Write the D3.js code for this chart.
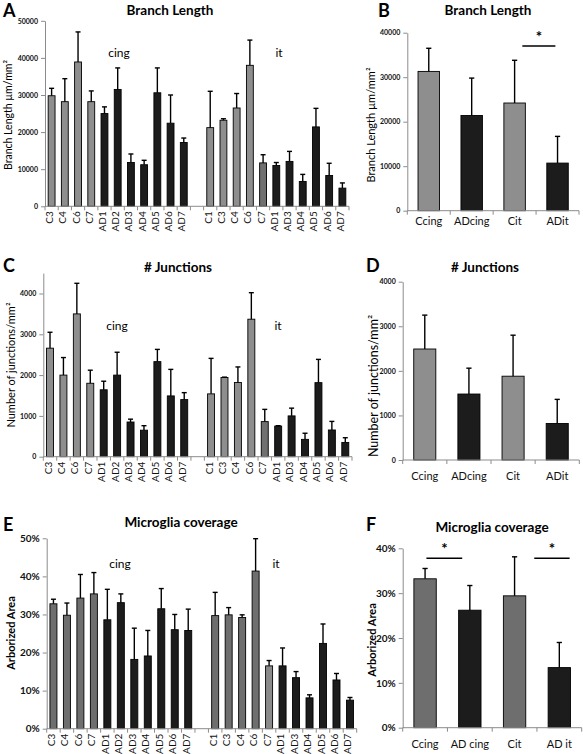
<!DOCTYPE html>
<html><head><meta charset="utf-8">
<script src="https://cdn.jsdelivr.net/npm/d3@7"></script>
<style>body{margin:0;background:#fff}svg{display:block}text{font-family:Lato,"Open Sans",sans-serif}</style>
</head><body>
<script>
// ---------- DATA ----------
const cingCats = ["C3","C4","C6","C7","AD1","AD2","AD3","AD4","AD5","AD6","AD7"];
const itCats   = ["C1","C3","C4","C6","C7","AD1","AD3","AD4","AD5","AD6","AD7"];

const branchCing    = [29800,28200,38900,28200,25000,31500,11800,11200,30600,22400,17200];
const branchCingErr = [2000,6200,8100,2900,1800,5800,2300,1200,6700,7600,1200];
const branchIt      = [21200,23200,26500,38000,11700,11000,12100,6700,21400,8300,4900];
const branchItErr   = [9800,400,3900,6800,2200,800,2700,1900,5000,3300,1400];

const junctCing    = [2660,2000,3500,1800,1640,2000,850,650,2330,1490,1400];
const junctCingErr = [390,430,750,320,210,560,70,110,300,650,170];
const junctIt      = [1540,1940,1820,3370,860,750,1000,425,1815,655,350];
const junctItErr   = [870,10,380,650,300,10,190,150,570,210,115];

const coverCing    = [32.8,29.8,34.3,35.4,28.6,33.1,18.2,19.1,31.5,26.0,25.8];
const coverCingErr = [1.2,3.2,6.2,5.6,8.0,2.3,8.2,6.7,5.3,4.0,5.6];
const coverIt      = [29.7,29.9,29.2,41.4,16.5,16.5,13.4,8.1,22.4,12.8,7.5];
const coverItErr   = [6.1,1.9,0.7,8.5,1.4,4.7,1.6,0.8,5.1,1.7,0.7];

const summaryCatsBD = ["Ccing","ADcing","Cit","ADit"];
const summaryCatsF  = ["Ccing","AD cing","Cit","AD it"];
const branchSum    = [31300,21400,24200,10700];
const branchSumErr = [5200,8400,9600,6000];
const junctSum     = [2490,1480,1880,820];
const junctSumErr  = [760,580,920,540];
const coverSum     = [33.2,26.2,29.4,13.4];
const coverSumErr  = [2.3,5.5,8.7,5.6];

const ticksBranch = [0,10000,20000,30000,40000,50000];
const ticksBranchB = [0,10000,20000,30000,40000];
const ticksJunct = [0,1000,2000,3000,4000];
const ticksCoverE = [0,10,20,30,40,50];
const ticksCoverF = [0,10,20,30,40];

// ---------- DRAW ----------
const svg = d3.select("body").append("svg").attr("width",583).attr("height",754);
const AX = "#8c8c8c";

function drawYAxis(g, y, x0, ticks, fmt, fs){
  const ax = d3.axisLeft(y).tickValues(ticks).tickFormat(fmt).tickSize(4).tickSizeOuter(0).tickPadding(3);
  const a = g.append("g").attr("transform",`translate(${x0},0)`).call(ax);
  a.select(".domain").attr("stroke",AX);
  a.selectAll(".tick line").attr("stroke",AX);
  a.selectAll(".tick text").attr("font-family","Lato, sans-serif").attr("font-weight","bold")
    .attr("font-size",fs).attr("fill","#111");
}

function errBars(g, rows, xc, y, cap){
  g.selectAll(null).data(rows).enter().append("line")
    .attr("x1",d=>xc(d)).attr("x2",d=>xc(d))
    .attr("y1",d=>y(d.v)).attr("y2",d=>y(d.v+d.e)).attr("stroke","#000").attr("stroke-width",1.4);
  g.selectAll(null).data(rows).enter().append("line")
    .attr("x1",d=>xc(d)-cap).attr("x2",d=>xc(d)+cap)
    .attr("y1",d=>y(d.v+d.e)).attr("y2",d=>y(d.v+d.e)).attr("stroke","#000").attr("stroke-width",1.4);
}

function groupPanel(o){
  const keys = cingCats.map(c=>"cing|"+c).concat(["gap|"], itCats.map(c=>"it|"+c));
  const x = d3.scaleBand().domain(keys).range([o.left,o.right]).padding(0);
  const y = d3.scaleLinear().domain([0,o.max]).range([o.bottom,o.top]);
  const bw = x.bandwidth();
  const rows = cingCats.map((c,i)=>({key:"cing|"+c,cat:c,v:o.cing[i],e:o.cingErr[i],grp:"cing"}))
    .concat(itCats.map((c,i)=>({key:"it|"+c,cat:c,v:o.it[i],e:o.itErr[i],grp:"it"})));
  const g = svg.append("g");
  const xc = d=>x(d.key)+bw/2;
  const barW = bw*0.52;
  g.selectAll(null).data(rows).enter().append("rect")
    .attr("x",d=>xc(d)-barW/2).attr("width",barW)
    .attr("y",d=>y(d.v)).attr("height",d=>y(0)-y(d.v))
    .attr("fill",d=>{
      if(!d.cat.startsWith("C")) return "#1c1c1c";
      if(d.grp==="it" && d.cat==="C7") return o.c7it;
      return o.ctrl;})
    .attr("stroke","#000").attr("stroke-width",0.9);
  errBars(g, rows, xc, y, 2.5);
  drawYAxis(g, y, o.left, o.ticks, o.fmt, o.tickFs);
  // x axis
  g.append("line").attr("x1",o.left).attr("x2",o.right).attr("y1",o.bottom).attr("y2",o.bottom).attr("stroke",AX);
  const edges = keys.map(k=>x(k)).concat([o.right]);
  g.selectAll(null).data(edges).enter().append("line")
    .attr("x1",d=>d).attr("x2",d=>d).attr("y1",o.bottom).attr("y2",o.bottom+4).attr("stroke",AX);
  g.selectAll(null).data(rows).enter().append("text")
    .attr("transform",d=>`translate(${xc(d)+1.5},${o.bottom+5}) rotate(-90)`)
    .attr("text-anchor","end").attr("font-size",o.xFs).attr("fill","#111").text(d=>d.cat);
  // group labels
  g.append("text").attr("x",o.cingX).attr("y",o.grpY).attr("text-anchor","middle").attr("font-size",12).text("cing");
  g.append("text").attr("x",o.itX).attr("y",o.grpY).attr("text-anchor","middle").attr("font-size",12).text("it");
  // title
  g.append("text").attr("x",o.titleX).attr("y",o.titleY).attr("text-anchor","middle")
    .attr("font-weight","bold").attr("font-size",13.5).text(o.title);
  // letter
  g.append("text").attr("x",3).attr("y",o.letterY).attr("font-family","Liberation Sans, Arial, sans-serif")
    .attr("font-weight","bold").attr("font-size",18).text(o.letter);
  // y label
  g.append("text").attr("transform",`translate(${o.ylabX},${o.ylabY}) rotate(-90)`).attr("text-anchor","middle")
    .attr("font-size",o.ylabFs).attr("font-weight",o.ylabW||"normal").text(o.ylab);
}

function summaryPanel(o){
  const x = d3.scaleBand().domain(o.cats).range([o.left,o.right]).padding(0);
  const y = d3.scaleLinear().domain([0,o.max]).range([o.bottom,o.top]);
  const bw = x.bandwidth();
  const rows = o.cats.map((c,i)=>({key:c,cat:c,v:o.vals[i],e:o.errs[i],ctrl:i%2===0}));
  const g = svg.append("g");
  const xc = d=>x(d.key)+bw/2;
  const barW = bw*0.5;
  g.selectAll(null).data(rows).enter().append("rect")
    .attr("x",d=>xc(d)-barW/2).attr("width",barW)
    .attr("y",d=>y(d.v)).attr("height",d=>y(0)-y(d.v))
    .attr("fill",d=>d.ctrl?o.ctrl:"#1c1c1c").attr("stroke","#000").attr("stroke-width",0.9);
  errBars(g, rows, xc, y, 2.6);
  drawYAxis(g, y, o.left, o.ticks, o.fmt, o.tickFs);
  g.append("line").attr("x1",o.left).attr("x2",o.right).attr("y1",o.bottom).attr("y2",o.bottom).attr("stroke",AX);
  const edges = o.cats.map(k=>x(k)).concat([o.right]);
  g.selectAll(null).data(edges).enter().append("line")
    .attr("x1",d=>d).attr("x2",d=>d).attr("y1",o.bottom).attr("y2",o.bottom+4).attr("stroke",AX);
  g.selectAll(null).data(rows).enter().append("text")
    .attr("x",xc).attr("y",o.bottom+o.xLabDy).attr("text-anchor","middle").attr("font-size",11).attr("fill","#111").text(d=>d.cat);
  (o.sig||[]).forEach(s=>{
    const x1 = x(o.cats[s.a])+bw*s.fa, x2 = x(o.cats[s.b])+bw*s.fb;
    g.append("line").attr("x1",x1).attr("x2",x2).attr("y1",y(s.level)).attr("y2",y(s.level)).attr("stroke","#000").attr("stroke-width",1.5);
    g.append("text").attr("x",(x1+x2)/2).attr("y",y(s.level)-4).attr("text-anchor","middle")
      .attr("font-family","Liberation Sans, Arial, sans-serif").attr("font-weight","bold").attr("font-size",15).text("*");
  });
  g.append("text").attr("x",o.titleX).attr("y",o.titleY).attr("text-anchor","middle")
    .attr("font-weight","bold").attr("font-size",13.5).text(o.title);
  g.append("text").attr("x",o.letterX).attr("y",o.letterY).attr("font-family","Liberation Sans, Arial, sans-serif")
    .attr("font-weight","bold").attr("font-size",18).text(o.letter);
  g.append("text").attr("transform",`translate(${o.ylabX},${o.ylabY}) rotate(-90)`).attr("text-anchor","middle")
    .attr("font-size",o.ylabFs).attr("font-weight",o.ylabW||"normal").text(o.ylab);
}

const fmtNum = d3.format("d");
const fmtPct = d=>d+"%";

groupPanel({left:45,right:349,top:20.8,bottom:206.3,max:50000,ticks:ticksBranch,fmt:fmtNum,tickFs:7,
  cing:branchCing,cingErr:branchCingErr,it:branchIt,itErr:branchItErr,ctrl:"#8e8e8e",c7it:"#707070",xFs:10,
  cingX:119,itX:279,grpY:57,title:"Branch Length",titleX:170,titleY:15,letter:"A",letterY:17,
  ylab:"Branch Length  µm/mm²",ylabX:12,ylabY:115,ylabFs:10.5});

summaryPanel({left:407.3,right:579,top:32.7,bottom:210.7,max:40000,ticks:ticksBranchB,fmt:fmtNum,tickFs:7,
  cats:summaryCatsBD,vals:branchSum,errs:branchSumErr,ctrl:"#8e8e8e",xLabDy:14,
  sig:[{a:2,b:3,fa:0.68,fb:0.45,level:37000}],
  title:"Branch Length",titleX:488,titleY:15,letter:"B",letterX:378,letterY:17,
  ylab:"Branch Length  µm/mm²",ylabX:375,ylabY:125,ylabFs:11});

groupPanel({left:43.3,right:352,top:273.1,bottom:456.7,max:4500,ticks:ticksJunct,fmt:fmtNum,tickFs:7,
  cing:junctCing,cingErr:junctCingErr,it:junctIt,itErr:junctItErr,ctrl:"#8e8e8e",c7it:"#707070",xFs:10,
  cingX:117,itX:278,grpY:330,title:"# Junctions",titleX:178,titleY:272,letter:"C",letterY:272,
  ylab:"Number of junctions/mm²",ylabX:15,ylabY:365,ylabFs:11});

summaryPanel({left:402.7,right:579.3,top:281.7,bottom:460,max:4000,ticks:ticksJunct,fmt:fmtNum,tickFs:7,
  cats:summaryCatsBD,vals:junctSum,errs:junctSumErr,ctrl:"#8e8e8e",xLabDy:20,
  title:"# Junctions",titleX:485,titleY:272,letter:"D",letterX:366,letterY:272,
  ylab:"Number of junctions/mm²",ylabX:378,ylabY:386,ylabFs:12.5});

groupPanel({left:46.7,right:356.7,top:538.3,bottom:728.7,max:50,ticks:ticksCoverE,fmt:fmtPct,tickFs:10,
  cing:coverCing,cingErr:coverCingErr,it:coverIt,itErr:coverItErr,ctrl:"#6e6e6e",c7it:"#8a8a8a",xFs:10,
  cingX:120,itX:276,grpY:568,title:"Microglia coverage",titleX:181,titleY:527,letter:"E",letterY:531,
  ylab:"Arborized Area",ylabX:15,ylabY:633,ylabFs:11,ylabW:"bold"});

summaryPanel({left:402.7,right:581.7,top:548.3,bottom:727.7,max:40,ticks:ticksCoverF,fmt:fmtPct,tickFs:10,
  cats:summaryCatsF,vals:coverSum,errs:coverSumErr,ctrl:"#6e6e6e",xLabDy:20,
  sig:[{a:0,b:1,fa:0.53,fb:0.33,level:37.8},{a:2,b:3,fa:0.94,fb:0.73,level:37.8}],
  title:"Microglia coverage",titleX:492,titleY:532,letter:"F",letterX:366,letterY:531,
  ylab:"Arborized Area",ylabX:376,ylabY:640,ylabFs:11,ylabW:"bold"});
</script>
</body></html>
